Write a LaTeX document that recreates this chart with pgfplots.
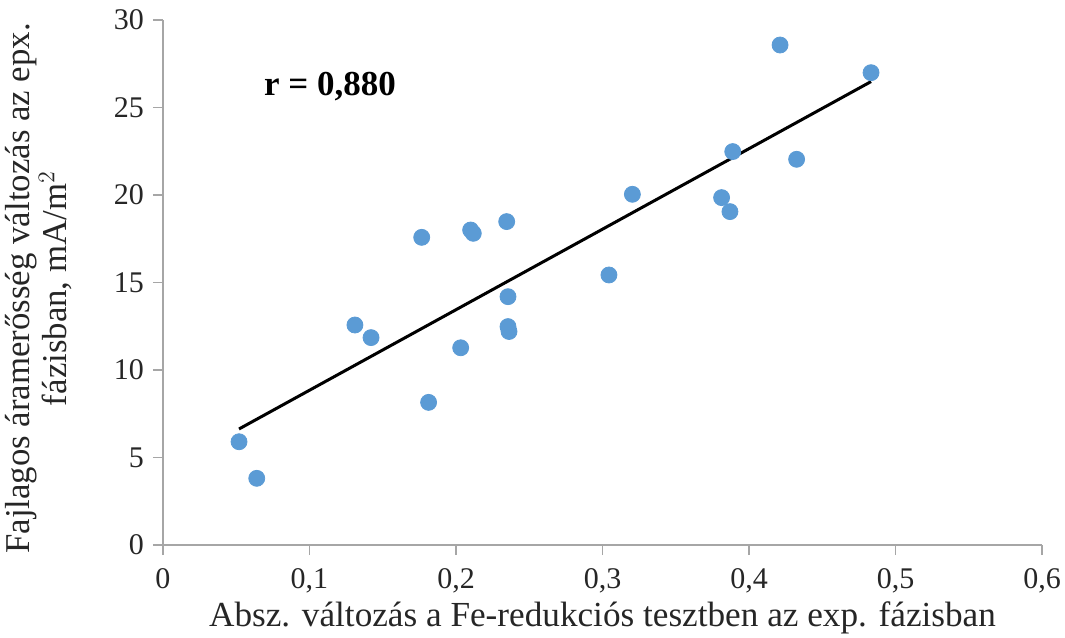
\documentclass[border=0pt]{standalone}
\usepackage{pgfplots}
\pgfplotsset{compat=1.18}
\usepackage{fontspec}
\setmainfont{Liberation Serif}
\definecolor{ptblue}{HTML}{5B9BD5}
\definecolor{axgray}{HTML}{A6A6A6}

\begin{document}
\begin{tikzpicture}
\useasboundingbox (-81.5pt,-46pt) rectangle (451pt,272.5pt);
\begin{axis}[
  scale only axis,
  width=439.5pt, height=262.5pt,
  xmin=0, xmax=0.6, ymin=0, ymax=30,
  axis x line=bottom, axis y line=left,
  axis line style={axgray, line width=0.6pt, -},
  tick style={axgray, line width=0.6pt},
  tick align=outside,
  major tick length=5pt,
  xtick={0,0.1,0.2,0.3,0.4,0.5,0.6},
  xticklabels={0,{0,1},{0,2},{0,3},{0,4},{0,5},{0,6}},
  ytick={0,5,10,15,20,25,30},
  /pgf/number format/assume math mode=true,
  ticklabel style={font=\fontsize{15}{17}\selectfont, text=black!85},
  xticklabel style={yshift=-3pt},
  yticklabel style={xshift=-1pt},
  label style={text=black!85},
  xlabel={Absz. változás a Fe-redukciós tesztben az exp. fázisban},
  xlabel style={font=\fontsize{17.6}{19}\selectfont, yshift=2.5pt},
  ylabel={Fajlagos áramerősség változás az epx.\\ fázisban, mA/m$^2$},
  ylabel style={align=center, font=\fontsize{17.4}{13}\selectfont, yshift=14pt, xshift=-3pt},
  clip=false,
]
% measured points
\addplot[only marks, mark=*, mark size=4pt, mark options={fill=ptblue, draw=ptblue}] coordinates {
  (0.0519, 5.90) (0.0640, 3.81) (0.1310, 12.57) (0.1420, 11.85)
  (0.1766, 17.58) (0.1813, 8.15) (0.2032, 11.27) (0.2100, 18.00)
  (0.2118, 17.81) (0.2346, 18.48) (0.2355, 14.19) (0.2355, 12.48)
  (0.2362, 12.20) (0.3044, 15.43) (0.3204, 20.04) (0.3813, 19.85)
  (0.3870, 19.05) (0.3889, 22.48) (0.4325, 22.04) (0.4212, 28.57)
  (0.4833, 26.99)
};
% linear trend
\addplot[black, line width=1.5pt] coordinates {(0.0519, 6.63) (0.4833, 26.48)};
\node[font=\bfseries\fontsize{17.5}{19}\selectfont] at (axis cs:0.114,26.2) {r = 0,880};
\end{axis}
\end{tikzpicture}
\end{document}
